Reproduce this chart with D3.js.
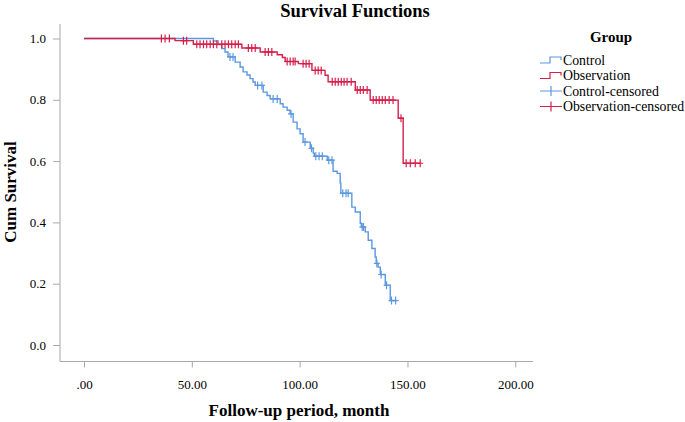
<!DOCTYPE html>
<html>
<head>
<meta charset="utf-8">
<script src="https://cdn.jsdelivr.net/npm/d3@7"></script>
<style>
  html, body { margin: 0; padding: 0; background: #fff; }
  svg { display: block; }
  text { font-family: "Liberation Serif", "Times New Roman", serif; fill: #000; }
</style>
</head>
<body>
<svg id="chart" width="685" height="422"></svg>
<script>
// ---- data ----
const groups = ["Control", "Observation"];
const legendLabels = ["Control", "Observation", "Control-censored", "Observation-censored"];

// Control: event times (months) and survival after each event
const controlEventTimes = [60.0, 62.2, 63.9, 65.4, 66.8, 70.1, 72.4, 73.8, 75.6, 77.0, 78.4, 79.4, 83.1, 84.9, 86.3,
  91.0, 92.3, 94.2, 95.6, 97.0, 98.8, 100.2, 101.6, 104.9, 106.3, 106.8, 112.8, 115.5, 117.4, 118.8, 119.1,
  124.2, 125.8, 128.1, 128.6, 130.4, 131.8, 133.5, 135.0, 135.5, 136.4, 137.4, 139.7, 142.0];
const controlSurvival = [0.992, 0.980, 0.967, 0.956, 0.940, 0.923, 0.907, 0.891, 0.881, 0.869, 0.858, 0.847, 0.825, 0.814, 0.803,
  0.787, 0.776, 0.766, 0.754, 0.727, 0.705, 0.689, 0.662, 0.642, 0.626, 0.616, 0.603, 0.567, 0.560, 0.528, 0.495,
  0.450, 0.434, 0.397, 0.385, 0.369, 0.342, 0.315, 0.287, 0.266, 0.254, 0.230, 0.195, 0.145];
const controlCensored = [67.7, 69.1, 80.5, 82.5, 87.7, 89.6, 96.0, 102.5, 105.5, 107.5, 109.0, 110.5, 113.5, 115.0,
  120.0, 121.5, 122.5, 129.0, 129.6, 135.8, 137.8, 140.3, 142.6, 144.5];

// Observation
const observationEventTimes = [42.2, 50.7, 73.2, 81.7, 89.6, 92.0, 93.3, 99.4, 105.7, 111.8, 113.2, 125.8, 132.7, 145.7, 148.0];
const observationSurvival = [0.993, 0.981, 0.969, 0.956, 0.947, 0.938, 0.925, 0.918, 0.896, 0.880, 0.859, 0.832, 0.799, 0.740, 0.593];
const observationCensored = [35.9, 37.6, 39.6, 46.1, 47.6, 52.3, 53.8, 55.4, 56.9, 58.5, 60.0, 61.6, 63.9, 65.4, 67.0,
  68.5, 70.1, 71.6, 76.2, 77.8, 79.4, 84.0, 85.5, 87.1, 94.2, 95.6, 97.0, 97.9, 101.6, 103.0, 104.4,
  107.2, 108.6, 110.0, 115.1, 116.5, 117.9, 119.3, 120.6, 122.0, 123.9, 126.7, 128.1, 129.5, 131.3,
  134.1, 135.5, 136.9, 138.3, 139.7, 141.5, 143.3, 147.0, 149.4, 151.3, 153.6, 155.9];

const xTicks = [0, 50, 100, 150, 200];
const xTickLabels = [".00", "50.00", "100.00", "150.00", "200.00"];
const yTicks = [0, 0.2, 0.4, 0.6, 0.8, 1.0];
const yTickLabels = ["0.0", "0.2", "0.4", "0.6", "0.8", "1.0"];

// ---- chart ----
const colors = { Control: "#5c98df", Observation: "#d61f4a" };
const svg = d3.select("#chart");
const x = d3.scaleLinear().domain([0, 200]).range([84, 515.3]);
const y = d3.scaleLinear().domain([0, 1]).range([345, 38.5]);

const axisColor = "#a8a8a8";
// axis lines
svg.append("line").attr("x1", 60).attr("x2", 60).attr("y1", 24).attr("y2", 361.5)
  .attr("stroke", axisColor).attr("stroke-width", 1);
svg.append("line").attr("x1", 60).attr("x2", 533).attr("y1", 361.5).attr("y2", 361.5)
  .attr("stroke", axisColor).attr("stroke-width", 1);

const xAxis = svg.append("g").attr("transform", "translate(0,361.5)")
  .call(d3.axisBottom(x).tickValues(xTicks).tickFormat((d, i) => xTickLabels[i]).tickSize(6).tickPadding(12));
xAxis.select(".domain").remove();
xAxis.selectAll("line").attr("stroke", axisColor);
xAxis.selectAll("text").attr("font-size", 13).attr("font-family", "Liberation Serif").attr("fill", "#000");

const yAxis = svg.append("g").attr("transform", "translate(60,0)")
  .call(d3.axisLeft(y).tickValues(yTicks).tickFormat((d, i) => yTickLabels[i]).tickSize(7).tickPadding(7));
yAxis.select(".domain").remove();
yAxis.selectAll("line").attr("stroke", axisColor);
yAxis.selectAll("text").attr("font-size", 13).attr("font-family", "Liberation Serif").attr("fill", "#000");

// titles
svg.append("text").attr("x", 355).attr("y", 17).attr("text-anchor", "middle")
  .attr("font-size", 18.5).attr("font-weight", "bold").text("Survival Functions");
svg.append("text").attr("x", 299).attr("y", 416).attr("text-anchor", "middle")
  .attr("font-size", 17).attr("font-weight", "bold").text("Follow-up period, month");
svg.append("text").attr("transform", "translate(16,192) rotate(-90)").attr("text-anchor", "middle")
  .attr("font-size", 17).attr("font-weight", "bold").text("Cum Survival");

// step function helpers
function survAt(times, surv, t) {
  let s = 1;
  for (let i = 0; i < times.length; i++) if (times[i] <= t) s = surv[i];
  return s;
}
function stepPath(times, surv, tEnd) {
  const p = d3.path();
  let s = 1;
  p.moveTo(x(0), y(1));
  times.forEach((t, i) => {
    p.lineTo(x(t), y(s));
    s = surv[i];
    p.lineTo(x(t), y(s));
  });
  p.lineTo(x(tEnd), y(s));
  return p.toString();
}

const series = [
  { name: "Control", times: controlEventTimes, surv: controlSurvival, cens: controlCensored },
  { name: "Observation", times: observationEventTimes, surv: observationSurvival, cens: observationCensored }
];

series.forEach(sr => {
  const tEnd = Math.max(d3.max(sr.cens), d3.max(sr.times));
  const g = svg.append("g");
  g.append("path").attr("d", stepPath(sr.times, sr.surv, tEnd))
    .attr("fill", "none").attr("stroke", colors[sr.name]).attr("stroke-width", 1.4);
  g.selectAll("path.cens").data(sr.cens).enter().append("path").attr("class", "cens")
    .attr("d", t => {
      const cx = x(t), cy = y(survAt(sr.times, sr.surv, t));
      return `M${cx - 3},${cy}H${cx + 3}M${cx},${cy - 4}V${cy + 4}`;
    })
    .attr("fill", "none").attr("stroke", colors[sr.name]).attr("stroke-width", 1.2);
});

// legend
svg.append("text").attr("x", 611).attr("y", 41.5).attr("text-anchor", "middle")
  .attr("font-size", 15).attr("font-weight", "bold").text("Group");
const legendColors = [colors.Control, colors.Observation, colors.Control, colors.Observation];
legendLabels.forEach((lab, i) => {
  const cy = 60 + i * 15.5;
  const c = legendColors[i];
  if (i < 2) {
    svg.append("path").attr("d", `M540,${cy + 3}H550V${cy - 3}H561V${cy}`)
      .attr("fill", "none").attr("stroke", c).attr("stroke-width", 1.2);
  } else {
    svg.append("path").attr("d", `M540,${cy}H562M551,${cy - 5}V${cy + 5}`)
      .attr("fill", "none").attr("stroke", c).attr("stroke-width", 1.2);
  }
  svg.append("text").attr("x", 563).attr("y", cy + 4.5).attr("font-size", 13.8).text(lab);
});
</script>
</body>
</html>
